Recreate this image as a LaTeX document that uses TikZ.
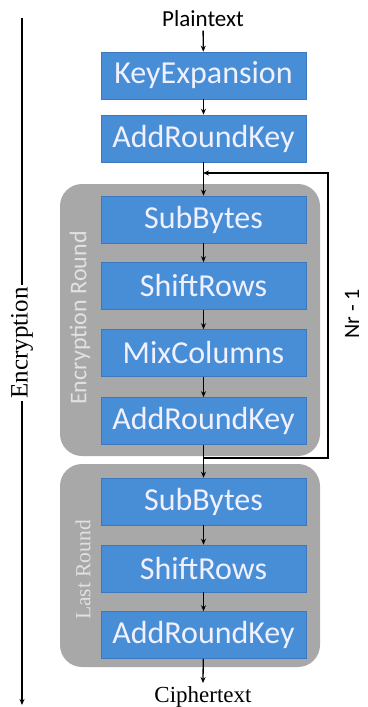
\documentclass[tikz,border=0pt]{standalone}
\usepackage{fontspec}
\newfontfamily\calib{Carlito}
\newfontfamily\serifrm{Liberation Serif}
\usetikzlibrary{arrows.meta,positioning}
\definecolor{stepblue}{RGB}{72,142,214}
\definecolor{stepedge}{RGB}{60,120,190}
\definecolor{roundgray}{RGB}{168,168,168}
\definecolor{roundtext}{RGB}{225,225,225}
\tikzset{
  stepbox/.style={draw=stepedge, line width=0.6pt, fill=stepblue, minimum width=205pt,
    minimum height=47pt, inner sep=0pt, text=white!94!blue,
    font=\calib\fontsize{32}{32}\selectfont},
  roundbox/.style={fill=roundgray, rounded corners=22pt, draw=none},
  flow/.style={line width=1.3pt, -{Stealth[length=6pt,width=5pt]}},
  wire/.style={line width=1.3pt},
}
\begin{document}
\begin{tikzpicture}[x=1pt,y=-1pt]
\useasboundingbox (0,0) rectangle (367,707);

% rounded backgrounds of the two round groups
\fill[roundbox] (60,184) rectangle (320,456);
\fill[roundbox] (60,464) rectangle (320,667);

% main column of steps
\node[font=\calib\fontsize{23}{23}\selectfont] (pt) at (203,19) {Plaintext};
\node[stepbox] (kx)  at (203.5,75.5)  {KeyExpansion};
\node[stepbox] (ark0) at (203.5,138.5) {AddRoundKey};

\node[stepbox] (sb1) at (203.5,219.5) {SubBytes};
\node[stepbox] (sr1) at (203.5,286)   {ShiftRows};
\node[stepbox] (mc1) at (203.5,353)   {MixColumns};
\node[stepbox] (ark1) at (203.5,421)  {AddRoundKey};

\node[stepbox] (sb2) at (203.5,501.5) {SubBytes};
\node[stepbox] (sr2) at (203.5,568.5) {ShiftRows};
\node[stepbox] (ark2) at (203.5,635)  {AddRoundKey};

\node[font=\serifrm\fontsize{23}{23}\selectfont] (ct) at (203,697) {Ciphertext};

% group labels
\node[rotate=90, text=roundtext, font=\calib\fontsize{24}{24}\selectfont] (erl) at (80,318) {Encryption Round};
\node[rotate=90, text=roundtext, font=\serifrm\fontsize{21.5}{21.5}\selectfont] (lrl) at (83,570) {Last Round};

% arrows between steps
\draw[flow] (pt) -- (kx);
\draw[flow] (kx) -- (ark0);
\coordinate (join) at (203,173);
\draw[flow] (ark0) -- (sb1);
\draw[flow] (sb1) -- (sr1);
\draw[flow] (sr1) -- (mc1);
\draw[flow] (mc1) -- (ark1);
\draw[flow] (ark1) -- (sb2);
\draw[flow] (sb2) -- (sr2);
\draw[flow] (sr2) -- (ark2);
\draw[flow] (ark2) -- (ct.north);

% loop back for the repeated rounds
\coordinate (loopR) at (328,458);
\draw[wire, -{Stealth[length=6pt,width=5pt]}] (203,458) -- (loopR) |- (join);
\node[rotate=90, font=\calib\fontsize{22}{22}\selectfont] (nr) at (352,314) {Nr - 1};

% overall encryption span
\coordinate (encTop) at (22,18);
\coordinate (encBot) at (22,705);
\draw[flow] (encTop) -- (encBot);
\node[rotate=90, fill=white, inner sep=2pt, font=\serifrm\fontsize{25}{25}\selectfont] (enc) at (22,343) {Encryption};
\end{tikzpicture}
\end{document}
